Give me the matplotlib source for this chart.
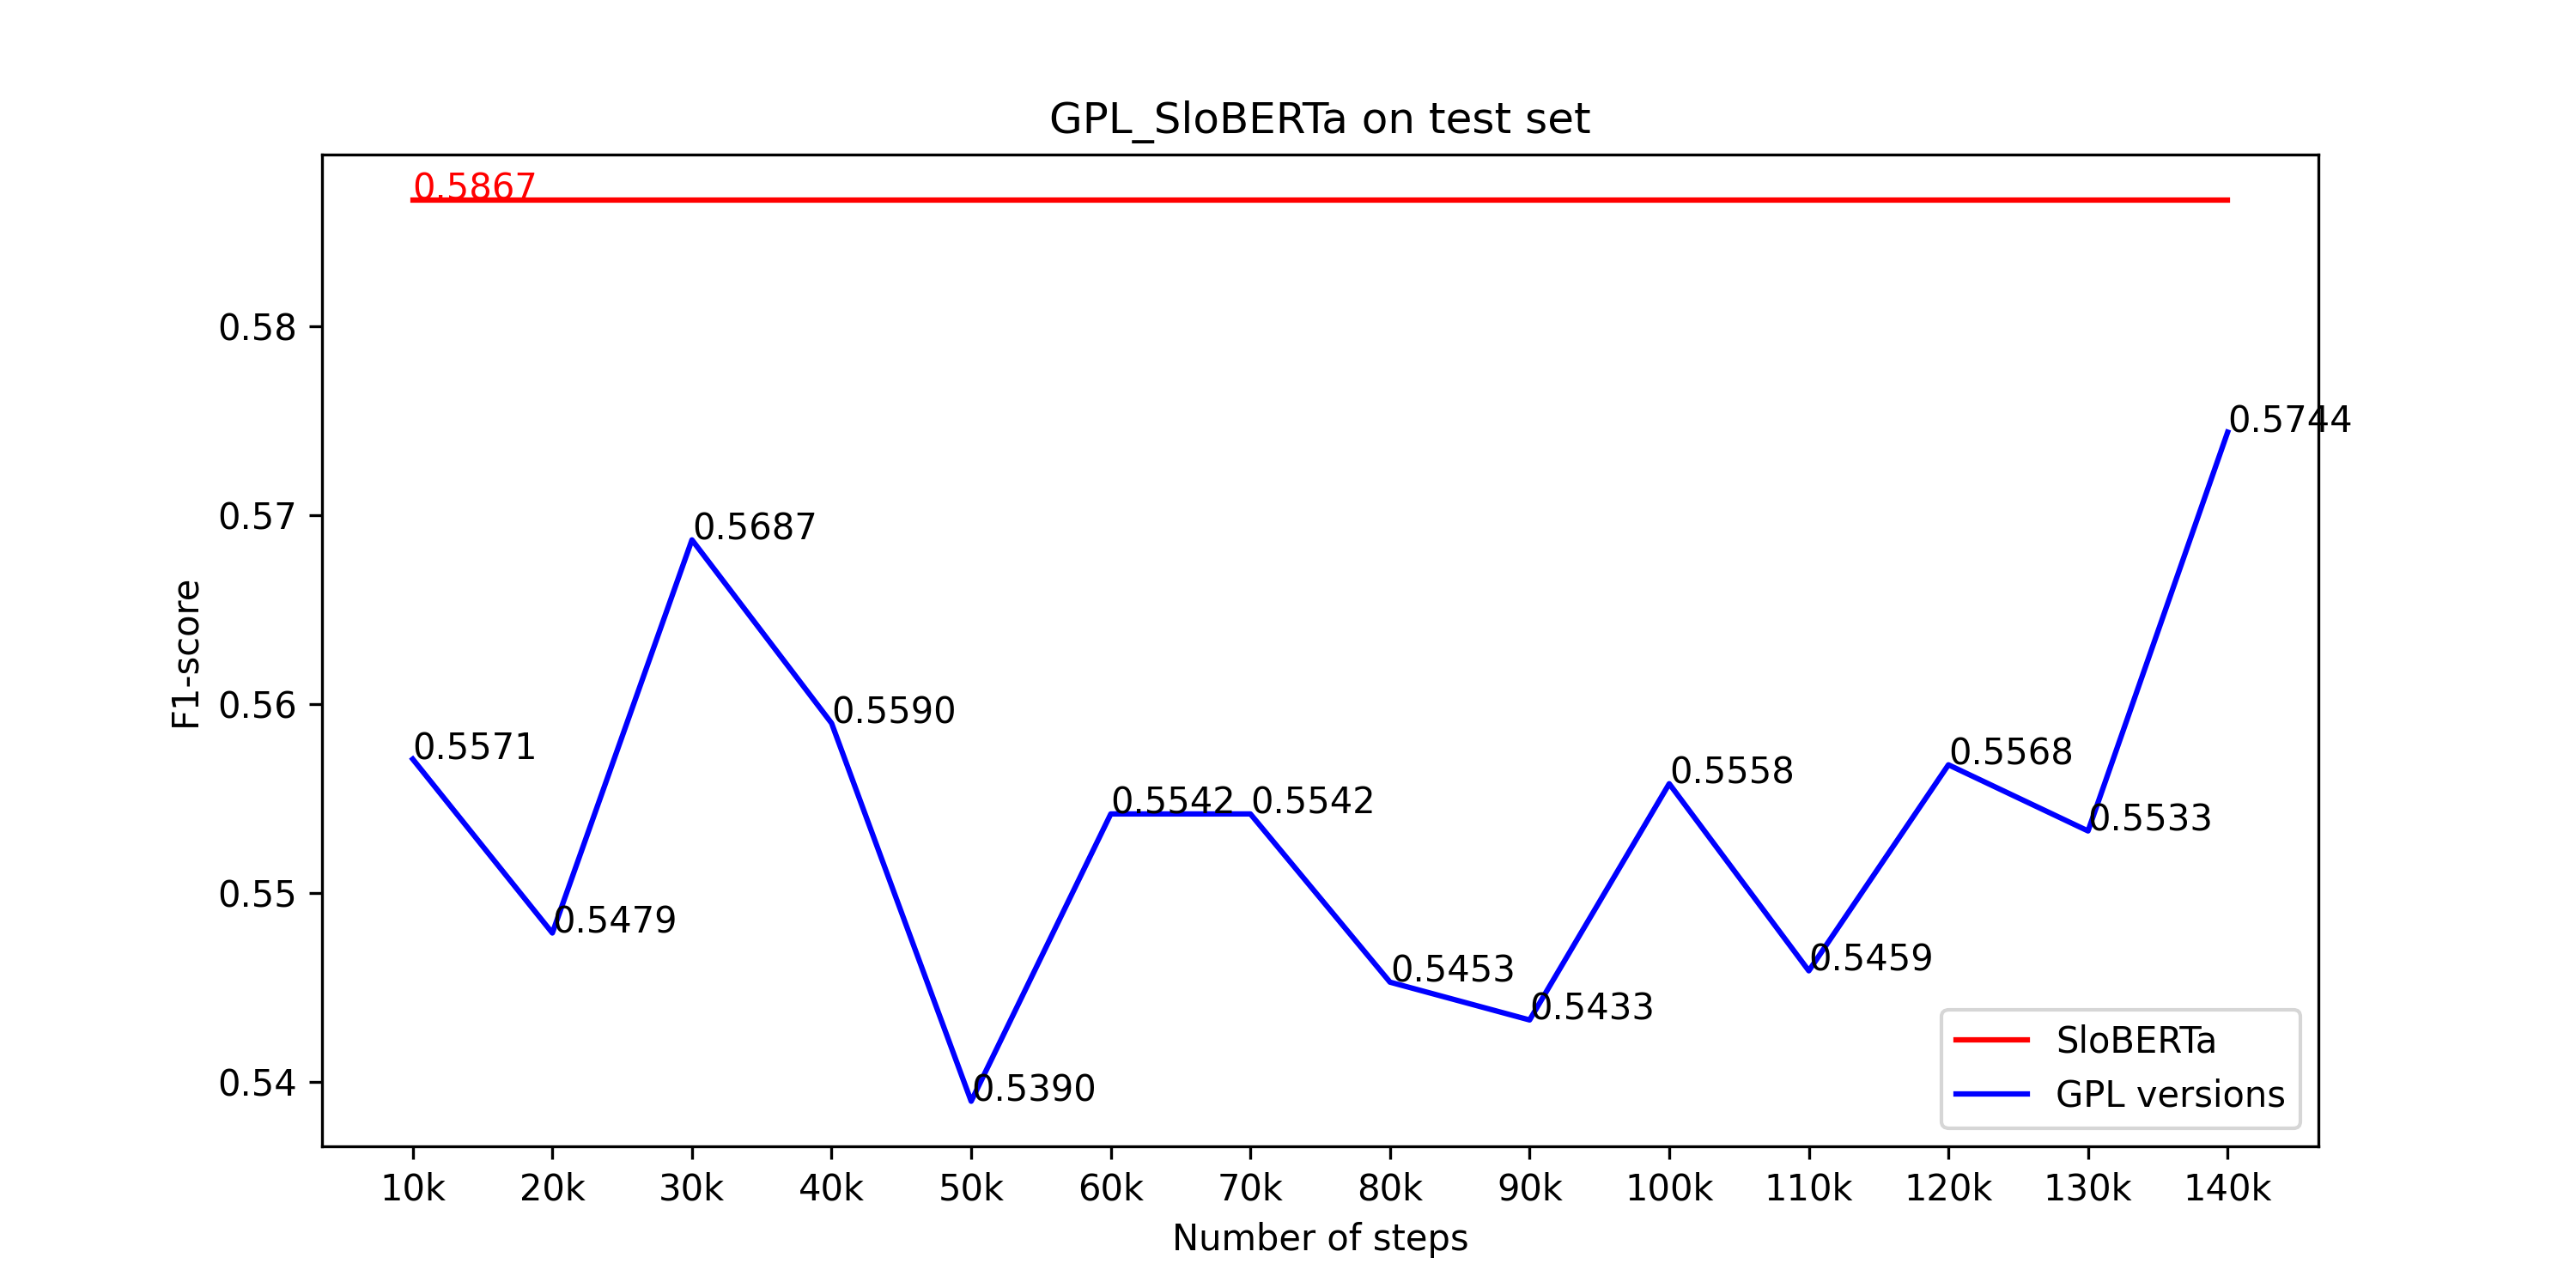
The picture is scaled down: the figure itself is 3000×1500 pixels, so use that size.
import matplotlib
matplotlib.use("Agg")
import matplotlib.pyplot as plt

steps = ["10k", "20k", "30k", "40k", "50k", "60k", "70k", "80k", "90k", "100k",
         "110k", "120k", "130k", "140k"]
gpl_scores = [0.5571, 0.5479, 0.5687, 0.5590, 0.5390, 0.5542, 0.5542, 0.5453,
              0.5433, 0.5558, 0.5459, 0.5568, 0.5533, 0.5744]
baseline = 0.5867

fig, ax = plt.subplots(figsize=(10, 5), dpi=300)
ax.plot(steps, [baseline] * len(steps), color="red", label="SloBERTa")
ax.plot(steps, gpl_scores, color="blue", label="GPL versions")
ax.text(0, baseline, f"{baseline:.4f}", color="red")
for i, v in enumerate(gpl_scores):
    ax.text(i, v, f"{v:.4f}")
ax.set_title("GPL_SloBERTa on test set")
ax.set_xlabel("Number of steps")
ax.set_ylabel("F1-score")
ax.legend(loc="lower right")
fig.savefig("out.png")
